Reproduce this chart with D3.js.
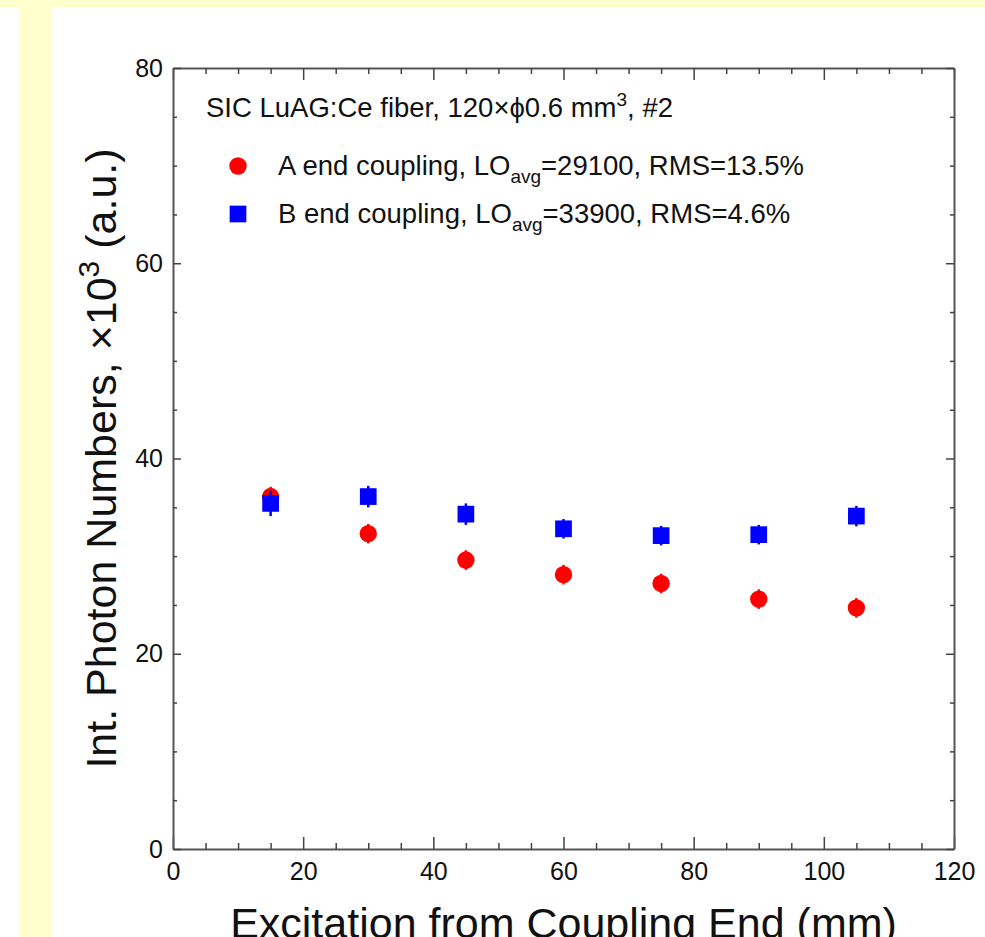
<!DOCTYPE html>
<html>
<head>
<meta charset="utf-8">
<script src="https://cdn.jsdelivr.net/npm/d3@7"></script>
<style>
	body { margin: 0; background: #fff; }
	svg { display: block; font-family: "Liberation Sans", Arial, Helvetica, sans-serif; }
</style>
</head>
<body>
<div id="chart"></div>
<script>

// excitation position (mm)
var positions = [15, 30, 45, 60, 75, 90, 105];

// A end coupling, x10^3
var aValues = [36.1, 32.3, 29.6, 28.1, 27.2, 25.6, 24.7];
var aErrors = [1.0, 1.0, 1.0, 1.0, 1.0, 1.0, 1.0];

// B end coupling, x10^3
var bValues = [35.4, 36.1, 34.3, 32.8, 32.1, 32.2, 34.1];
var bErrors = [1.3, 1.1, 1.1, 1.0, 1.0, 1.0, 1.05];

var xMajor = [0, 20, 40, 60, 80, 100, 120];
var yMajor = [0, 20, 40, 60, 80];

var W = 985, H = 937;
var frame = { left: 173, right: 954, top: 68, bottom: 849 };

var svg = d3.select("#chart").append("svg")
	.attr("width", W)
	.attr("height", H);

// yellow page border
svg.append("rect").attr("x", 0).attr("y", 0).attr("width", W).attr("height", 7).attr("fill", "#ffffcc");
svg.append("rect").attr("x", 20).attr("y", 0).attr("width", 32).attr("height", H).attr("fill", "#ffffcc");

var x = d3.scaleLinear().domain([0, 120]).range([frame.left, frame.right]);
var y = d3.scaleLinear().domain([0, 80]).range([frame.bottom, frame.top]);

var xMinor = d3.range(0, 121, 5).filter(d => d % 20 !== 0);
var yMinor = d3.range(0, 81, 5).filter(d => d % 20 !== 0);

function styleAxis(g)	{
	g.selectAll("path.domain").attr("stroke", "#555").attr("stroke-width", 2);
	g.selectAll(".tick line").attr("stroke", "#444").attr("stroke-width", 1.5);
	g.selectAll(".tick text").attr("fill", "#111").attr("font-size", 25)
		.attr("font-family", "Liberation Sans, Arial, sans-serif");
}

// bottom
var gb = svg.append("g").attr("transform", `translate(0,${frame.bottom})`);
gb.call(d3.axisBottom(x).tickValues(xMajor).tickSizeInner(-12).tickSizeOuter(0).tickPadding(13));
gb.append("g").call(d3.axisBottom(x).tickValues(xMinor).tickSizeInner(-6).tickSizeOuter(0).tickFormat(""))
	.select("path.domain").remove();
styleAxis(gb);

// top
var gt = svg.append("g").attr("transform", `translate(0,${frame.top})`);
gt.call(d3.axisTop(x).tickValues(xMajor).tickSizeInner(-12).tickSizeOuter(0).tickFormat(""));
gt.append("g").call(d3.axisTop(x).tickValues(xMinor).tickSizeInner(-6).tickSizeOuter(0).tickFormat(""))
	.select("path.domain").remove();
styleAxis(gt);

// left
var gl = svg.append("g").attr("transform", `translate(${frame.left},0)`);
gl.call(d3.axisLeft(y).tickValues(yMajor).tickSizeInner(-8).tickSizeOuter(0).tickPadding(10));
gl.append("g").call(d3.axisLeft(y).tickValues(yMinor).tickSizeInner(-4).tickSizeOuter(0).tickFormat(""))
	.select("path.domain").remove();
styleAxis(gl);

// right
var gr = svg.append("g").attr("transform", `translate(${frame.right},0)`);
gr.call(d3.axisRight(y).tickValues(yMajor).tickSizeInner(-8).tickSizeOuter(0).tickFormat(""));
gr.append("g").call(d3.axisRight(y).tickValues(yMinor).tickSizeInner(-4).tickSizeOuter(0).tickFormat(""))
	.select("path.domain").remove();
styleAxis(gr);

// axis titles
svg.append("text")
	.attr("x", (frame.left + frame.right) / 2)
	.attr("y", 938)
	.attr("text-anchor", "middle")
	.attr("font-size", 43)
	.attr("fill", "#111")
	.text("Excitation from Coupling End (mm)");

var yt = svg.append("text")
	.attr("transform", `translate(116,${(frame.top + frame.bottom) / 2}) rotate(-90)`)
	.attr("text-anchor", "middle")
	.attr("font-size", 43)
	.attr("fill", "#111");
yt.append("tspan").text("Int. Photon Numbers, \u00d710");
yt.append("tspan").attr("font-size", 30).attr("dy", -17).text("3");
yt.append("tspan").attr("dy", 17).text(" (a.u.)");

// data
var aData = positions.map((p, i) => ({ x: p, v: aValues[i], e: aErrors[i] }));
var bData = positions.map((p, i) => ({ x: p, v: bValues[i], e: bErrors[i] }));

function errbars(data, color)	{
	var g = svg.append("g");
	g.selectAll("line.bar")
		.data(data)
		.join("line")
		.attr("x1", d => x(d.x))
		.attr("x2", d => x(d.x))
		.attr("y1", d => y(d.v - d.e))
		.attr("y2", d => y(d.v + d.e))
		.attr("stroke", color)
		.attr("stroke-width", 2.5);
	return g;
}

errbars(aData, "#ff0000")
	.selectAll("circle")
	.data(aData)
	.join("circle")
	.attr("cx", d => x(d.x))
	.attr("cy", d => y(d.v))
	.attr("r", 8.7)
	.attr("fill", "#ff0000");

var sq = 16.7;
errbars(bData, "#0000ff")
	.selectAll("rect")
	.data(bData)
	.join("rect")
	.attr("x", d => x(d.x) - sq / 2)
	.attr("y", d => y(d.v) - sq / 2)
	.attr("width", sq)
	.attr("height", sq)
	.attr("fill", "#0000ff");

// legend
var lg = svg.append("g").attr("font-size", 27.5).attr("fill", "#111");

var t0 = lg.append("text").attr("x", 206).attr("y", 117);
t0.append("tspan").text("SIC LuAG:Ce fiber, 120\u00d7\u03d50.6 mm");
t0.append("tspan").attr("font-size", 19).attr("dy", -11).text("3");
t0.append("tspan").attr("dy", 11).text(", #2");

var entries = [
	{ label: "A end coupling, LO", lo: "29100", rms: "13.5%", color: "#ff0000", shape: "circle", yy: 166 },
	{ label: "B end coupling, LO", lo: "33900", rms: "4.6%", color: "#0000ff", shape: "square", yy: 214 },
];

entries.forEach( e => {

	if(e.shape === "circle")
		lg.append("circle").attr("cx", 238).attr("cy", e.yy).attr("r", 8.7).attr("fill", e.color);
	else
		lg.append("rect").attr("x", 238 - sq / 2).attr("y", e.yy - sq / 2)
			.attr("width", sq).attr("height", sq).attr("fill", e.color);

	var t = lg.append("text").attr("x", 278).attr("y", e.yy + 9);
	t.append("tspan").text(e.label);
	t.append("tspan").attr("font-size", 19).attr("dy", 8).text("avg");
	t.append("tspan").attr("dy", -8).text(`=${e.lo}, RMS=${e.rms}`);

});

</script>
</body>
</html>
